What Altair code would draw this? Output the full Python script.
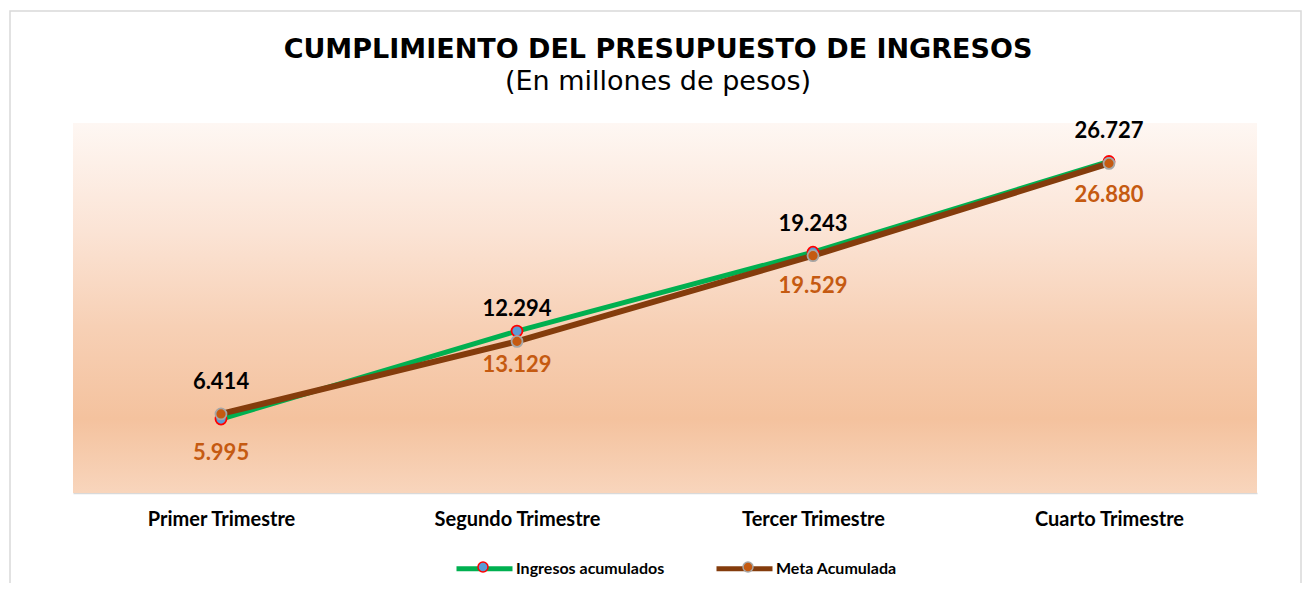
import altair as alt
import pandas as pd

trimestres = ["Primer Trimestre", "Segundo Trimestre", "Tercer Trimestre", "Cuarto Trimestre"]
series = ["Ingresos acumulados", "Meta Acumulada"]
ingresos = [5.995, 13.129, 19.529, 26.880]
meta = [6.414, 12.294, 19.243, 26.727]

line_colors = ["#00b050", "#843c0c"]
marker_fill = ["#5b9bd5", "#c55a11"]

rows = []
for s, vals in zip(series, [ingresos, meta]):
    for t, v in zip(trimestres, vals):
        rows.append({"Trimestre": t, "Serie": s, "Serie2": s, "Valor": v})
df = pd.DataFrame(rows)

W, H = 1184, 370

x_enc = alt.X(
    "Trimestre:N",
    sort=trimestres,
    scale=alt.Scale(type="point", padding=0.5),
    axis=alt.Axis(
        title=None, ticks=False, domainColor="#d9d9d9", domainWidth=1.5,
        labelFont="Lato", labelFontWeight="bold", labelFontSize=20,
        labelColor="#000000", labelPadding=16, labelAngle=0, grid=False,
    ),
)
y_enc = alt.Y("Valor:Q", scale=alt.Scale(domain=[0, 30]), axis=None)

base = alt.Chart(df)

bg = alt.Chart(pd.DataFrame({"a": [0]})).mark_rect(
    fill=alt.Gradient(
        gradient="linear",
        stops=[
            alt.GradientStop(color="#fef7f3", offset=0),
            alt.GradientStop(color="#fbe3d4", offset=0.3),
            alt.GradientStop(color="#f7d0b5", offset=0.55),
            alt.GradientStop(color="#f4c29e", offset=0.8),
            alt.GradientStop(color="#f8d5bc", offset=1),
        ],
        x1=0, x2=0, y1=0, y2=1,
    )
).encode(x=alt.value(0), x2=alt.value(W), y=alt.value(0), y2=alt.value(H))

border = alt.Chart(pd.DataFrame({"a": [0]})).mark_rect(
    fill="transparent", stroke="#d9d9d9", strokeWidth=1.5
).encode(x=alt.value(-63), x2=alt.value(1228), y=alt.value(-112), y2=alt.value(490))

lines = base.mark_line().encode(
    x=x_enc,
    y=y_enc,
    stroke=alt.Stroke(
        "Serie:N",
        scale=alt.Scale(domain=series, range=line_colors),
        legend=alt.Legend(
            orient="none", legendX=381, legendY=415, direction="horizontal",
            title=None, symbolType="stroke", symbolSize=3136, symbolStrokeWidth=5,
            labelFont="Lato", labelFontWeight="bold", labelFontSize=16,
            labelColor="#000000", labelOffset=1, columnPadding=41,
        ),
    ),
    strokeWidth=alt.condition(alt.datum.Serie == "Meta Acumulada", alt.value(6), alt.value(5)),
    order=alt.Order("Serie:N"),
)

points = base.mark_point(filled=True, size=120, opacity=1).encode(
    x=x_enc,
    y=y_enc,
    fill=alt.Fill(
        "Serie2:N",
        scale=alt.Scale(domain=series, range=marker_fill),
        legend=alt.Legend(
            orient="none", legendX=404, legendY=438, direction="horizontal",
            title=None, symbolType="circle", symbolSize=100, symbolStrokeWidth=1.5,
            symbolStrokeColor={"expr": "datum.value == 'Ingresos acumulados' ? '#ff0000' : '#a6a6a6'"},
            labelExpr="''", labelOffset=0, columnPadding=249,
        ),
    ),
    stroke=alt.condition(alt.datum.Serie2 == "Ingresos acumulados", alt.value("#ff0000"), alt.value("#a6a6a6")),
    strokeWidth=alt.value(1.8),
)

lab_meta = base.transform_filter(alt.datum.Serie == "Meta Acumulada").mark_text(
    font="Lato", fontWeight="bold", fontSize=22, color="#000000", dy=-32, baseline="middle"
).encode(x=x_enc, y=y_enc, text=alt.Text("Valor:Q", format=".3f"))

lab_ing = base.transform_filter(alt.datum.Serie == "Ingresos acumulados").mark_text(
    font="Lato", fontWeight="bold", fontSize=22, color="#c55a11", dy=34, baseline="middle"
).encode(x=x_enc, y=y_enc, text=alt.Text("Valor:Q", format=".3f"))

chart = alt.layer(bg, border, lines, points, lab_meta, lab_ing).resolve_scale(
    stroke="independent", fill="independent"
).properties(
    width=W,
    height=H,
    autosize=alt.AutoSizeParams(type="none"),
    padding={"left": 65, "top": 115, "right": 45, "bottom": 90},
    title=alt.Title(
        text="CUMPLIMIENTO DEL PRESUPUESTO DE INGRESOS",
        subtitle="(En millones de pesos)",
        font="DejaVu Sans", fontSize=27, fontWeight="bold", color="#000000",
        subtitleFont="DejaVu Sans", subtitleFontSize=27, subtitleColor="#000000",
        subtitlePadding=5, anchor="middle", frame="group", offset=-86, dx=-7,
    ),
).configure_view(stroke=None)

chart.save("out.html", embed_options={"renderer": "svg", "actions": False})
